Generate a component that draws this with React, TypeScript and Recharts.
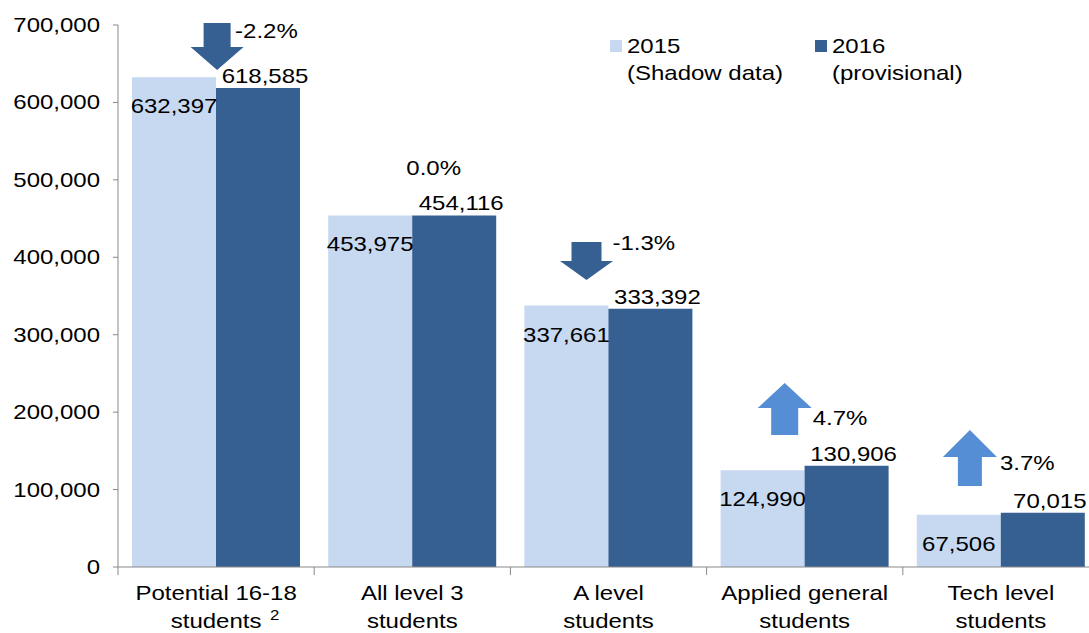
import React from 'react';
import { BarChart, Bar, XAxis, YAxis, LabelList, Legend, ReferenceDot } from 'recharts';

const CATEGORIES = [
  'Potential 16-18 students',
  'All level 3 students',
  'A level students',
  'Applied general students',
  'Tech level students',
];
const FOOTNOTES = ['2', '', '', '', ''];
const SERIES_2015 = [632397, 453975, 337661, 124990, 67506];
const SERIES_2016 = [618585, 454116, 333392, 130906, 70015];
const CHANGES = ['-2.2%', '0.0%', '-1.3%', '4.7%', '3.7%'];
// where each change note sits on the value axis
const CHANGE_AT = [702600, 506300, 419700, 237600, 176900];
const Y_TICKS = [0, 100000, 200000, 300000, 400000, 500000, 600000, 700000];
const LEGEND_LABELS = [
  ['2015', '(Shadow data)'],
  ['2016', '(provisional)'],
];

const COLORS = ['#C6D9F1', '#376092'];
const UP_COLOR = '#558ED5';
const AXIS_COLOR = '#898989';
const FONT = "'Liberation Sans', Arial, sans-serif";
const SX = 1.2; // the original text is stretched sideways

const WIDTH = 1100;
const HEIGHT = 633;
const X_AXIS_H = 66;
const MARGIN = { top: 25, right: 1, bottom: 0, left: 8 };
const Y_AXIS_W = 110;
const BAND = (WIDTH - MARGIN.left - MARGIN.right - Y_AXIS_W) / CATEGORIES.length;

// arrow shapes / text offsets for the change notes
const NOTE_LAYOUT = [
  { dx: 1, h: 47, head: 23, shaft: 27, width: 53, tx: 18, ty: 15 },
  { dx: -6, h: 0, head: 0, shaft: 0, width: 0, tx: 0, ty: 0 },
  { dx: -22, h: 38, head: 19, shaft: 30, width: 53, tx: 26, ty: 8 },
  { dx: -20, h: 52, head: 25, shaft: 27, width: 54, tx: 28, ty: 42 },
  { dx: -31, h: 56, head: 27, shaft: 24, width: 54, tx: 30, ty: 40 },
];

const data = CATEGORIES.map((name, i) => ({
  name,
  y2015: SERIES_2015[i],
  y2016: SERIES_2016[i],
}));

const fmt = (v: number) => Number(v).toLocaleString('en-US');

const WideText = ({ x, y, anchor = 'middle', size = 20, fill = '#000', children }: any) => (
  <text
    transform={`translate(${x},${y}) scale(${SX},1)`}
    x={0}
    y={0}
    textAnchor={anchor}
    fontSize={size}
    fontFamily={FONT}
    fill={fill}
  >
    {children}
  </text>
);

const YTick = ({ x, y, payload }: any) => (
  <WideText x={x} y={y + 7} anchor="end">
    {fmt(payload.value)}
  </WideText>
);

const XTick = ({ x, y, payload, index }: any) => {
  const name: string = payload.value;
  const cut = name.lastIndexOf(' ');
  const line1 = name.slice(0, cut);
  const line2 = name.slice(cut + 1);
  const left = x - BAND / 2;
  return (
    <g>
      <line x1={left} y1={y} x2={left} y2={y + 8} stroke={AXIS_COLOR} />
      {index === CATEGORIES.length - 1 && (
        <line x1={x + BAND / 2} y1={y} x2={x + BAND / 2} y2={y + 8} stroke={AXIS_COLOR} />
      )}
      <WideText x={x} y={y + 33}>{line1}</WideText>
      <WideText x={x} y={y + 61}>{line2}</WideText>
      {FOOTNOTES[index] && (
        <WideText x={x + 54} y={y + 53} anchor="start" size={14}>
          {FOOTNOTES[index]}
        </WideText>
      )}
    </g>
  );
};

const Label2015 = ({ x, y, width, value }: any) => (
  <WideText x={Number(x) + Number(width) / 2} y={Number(y) + 36}>
    {fmt(value)}
  </WideText>
);

const Label2016 = ({ x, y, width, value }: any) => (
  <WideText x={Number(x) + Number(width) / 2 + 7} y={Number(y) - 5}>
    {fmt(value)}
  </WideText>
);

const ChangeNote = ({ cx, cy, index }: any) => {
  const l = NOTE_LAYOUT[index];
  const text = CHANGES[index];
  const ax = cx + l.dx;
  const ay = cy;
  const n = parseFloat(text);
  if (n === 0) {
    return (
      <WideText x={ax} y={ay} anchor="start">
        {text}
      </WideText>
    );
  }
  const s = l.shaft / 2;
  const w = l.width / 2;
  let d: string;
  if (n < 0) {
    const hb = ay + l.h - l.head;
    d = `M${ax - s},${ay} L${ax + s},${ay} L${ax + s},${hb} L${ax + w},${hb} L${ax},${ay + l.h} L${ax - w},${hb} L${ax - s},${hb} Z`;
  } else {
    const hb = ay + l.head;
    d = `M${ax},${ay} L${ax + w},${hb} L${ax + s},${hb} L${ax + s},${ay + l.h} L${ax - s},${ay + l.h} L${ax - s},${hb} L${ax - w},${hb} Z`;
  }
  return (
    <g>
      <path d={d} fill={n < 0 ? COLORS[1] : UP_COLOR} />
      <WideText x={ax + l.tx} y={ay + l.ty} anchor="start">
        {text}
      </WideText>
    </g>
  );
};

const renderLegend = () => (
  <svg width={420} height={70} style={{ display: 'block' }}>
    {LEGEND_LABELS.map(([a, b], i) => {
      const ox = i * 205;
      return (
        <g key={a}>
          <rect x={ox + 10} y={10} width={12} height={12} fill={COLORS[i]} />
          <WideText x={ox + 27} y={23} anchor="start">{a}</WideText>
          <WideText x={ox + 27} y={50} anchor="start">{b}</WideText>
        </g>
      );
    })}
  </svg>
);

export default function App() {
  return (
    <div
      style={{
        position: 'absolute',
        left: 0,
        top: 0,
        width: 1089,
        height: 633,
        overflow: 'hidden',
        background: '#fff',
      }}
    >
      <BarChart
        width={WIDTH}
        height={HEIGHT}
        data={data}
        margin={MARGIN}
        barCategoryGap={14}
        barGap={0}
      >
        <XAxis
          dataKey="name"
          axisLine={{ stroke: AXIS_COLOR }}
          tickLine={false}
          tickSize={0}
          tickMargin={0}
          height={X_AXIS_H}
          interval={0}
          tick={(p: any) => <XTick {...p} />}
        />
        <YAxis
          width={Y_AXIS_W}
          domain={[0, 700000]}
          ticks={Y_TICKS}
          axisLine={{ stroke: AXIS_COLOR }}
          tickLine={{ stroke: AXIS_COLOR }}
          tickSize={5}
          tickMargin={13}
          tick={(p: any) => <YTick {...p} />}
        />
        <Legend
          layout="horizontal"
          verticalAlign="middle"
          align="center"
          content={renderLegend}
          wrapperStyle={{ position: 'absolute', left: 600, top: 30, width: 420, height: 70, margin: 0 }}
        />
        <Bar dataKey="y2015" name="2015 (Shadow data)" fill={COLORS[0]} isAnimationActive={false}>
          <LabelList dataKey="y2015" content={(p: any) => <Label2015 {...p} />} />
        </Bar>
        <Bar dataKey="y2016" name="2016 (provisional)" fill={COLORS[1]} isAnimationActive={false}>
          <LabelList dataKey="y2016" content={(p: any) => <Label2016 {...p} />} />
        </Bar>
        {CATEGORIES.map((c, i) => (
          <ReferenceDot
            key={c}
            x={c}
            y={CHANGE_AT[i]}
            ifOverflow="visible"
            shape={(p: any) => <ChangeNote {...p} index={i} />}
          />
        ))}
      </BarChart>
    </div>
  );
}
